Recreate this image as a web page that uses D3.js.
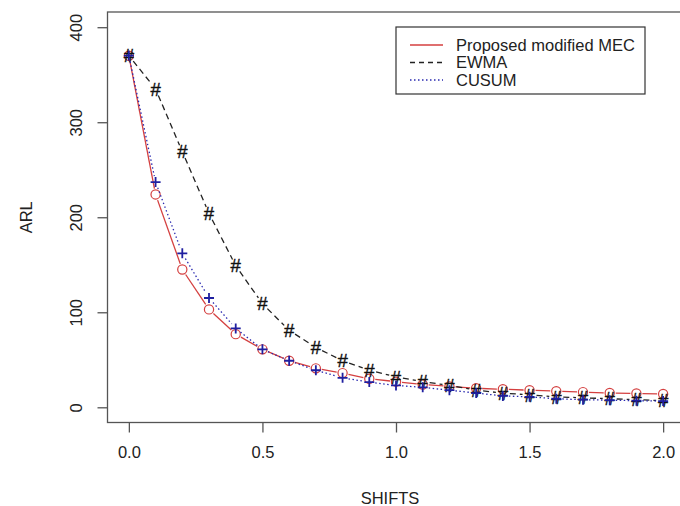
<!DOCTYPE html>
<html>
<head>
<meta charset="utf-8">
<script src="https://cdn.jsdelivr.net/npm/d3@7"></script>
<style>
  html, body { margin: 0; padding: 0; background: #fff; }
  svg { display: block; }
  text { font-family: "Liberation Sans", Arial, sans-serif; fill: #222; }
</style>
</head>
<body>
<svg id="chart" width="680" height="506"></svg>
<script>
// ---- data ----
const shifts = [0.0, 0.1, 0.2, 0.3, 0.4, 0.5, 0.6, 0.7, 0.8, 0.9, 1.0, 1.1, 1.2, 1.3, 1.4, 1.5, 1.6, 1.7, 1.8, 1.9, 2.0];
const mecValues   = [370, 224, 145, 103, 77, 61, 49, 41, 36, 30, 27, 24, 22, 20, 19, 18, 17, 16, 15, 14.5, 14];
const ewmaValues  = [370, 335, 269, 204, 149, 109, 81, 63, 49, 39, 32, 27, 23, 18, 15, 13, 11, 10, 9, 8, 7];
const cusumValues = [370, 237, 162, 115, 83, 61, 49, 39, 31, 26.5, 23, 21, 18, 15, 12, 11, 9, 8, 7.5, 7, 6.5];
const xTicks = [0.0, 0.5, 1.0, 1.5, 2.0];
const yTicks = [0, 100, 200, 300, 400];
const seriesNames = ["Proposed modified MEC", "EWMA", "CUSUM"];

const svg = d3.select("#chart");
const x = d3.scaleLinear().domain([-0.08, 2.08]).range([107.5, 684.5]);
const y = d3.scaleLinear().domain([-16, 416]).range([422.5, 12]);

// frame
svg.append("rect")
  .attr("x", x(-0.08)).attr("y", y(416))
  .attr("width", x(2.08) - x(-0.08)).attr("height", y(-16) - y(416))
  .attr("fill", "none").attr("stroke", "#555").attr("stroke-width", 1.3);

// axes
const xAxis = d3.axisBottom(x).tickValues(xTicks).tickFormat(d3.format(".1f")).tickSize(10).tickPadding(14);
const gx = svg.append("g").attr("transform", `translate(0,${y(-16)})`).call(xAxis);
gx.select(".domain").remove();
gx.selectAll("line").attr("stroke", "#555").attr("stroke-width", 1.3);
gx.selectAll("text").attr("font-size", 16.5).attr("fill", "#222")
  .style("font-family", '"Liberation Sans", Arial, sans-serif');

const yAxis = d3.axisLeft(y).tickValues(yTicks).tickFormat(d3.format("d")).tickSize(10);
const gy = svg.append("g").attr("transform", `translate(${x(-0.08)},0)`).call(yAxis);
gy.select(".domain").remove();
gy.selectAll("line").attr("stroke", "#555").attr("stroke-width", 1.3);
gy.selectAll("text")
  .attr("font-size", 16.5).attr("fill", "#222")
  .style("font-family", '"Liberation Sans", Arial, sans-serif')
  .attr("x", null).attr("dy", null)
  .attr("text-anchor", "middle")
  .attr("transform", d => `translate(-26,${0}) rotate(-90)`);

// axis titles
svg.append("text").attr("x", (x(-0.08) + x(2.08)) / 2 - 6).attr("y", 504)
  .attr("text-anchor", "middle").attr("font-size", 16.5).text("SHIFTS");
svg.append("text")
  .attr("transform", `translate(32,${(y(-16) + y(416)) / 2}) rotate(-90)`)
  .attr("text-anchor", "middle").attr("font-size", 16.5).text("ARL");

// type="b" style segments with gaps around points
function gappedSegments(vals, gap) {
  const pts = shifts.map((s, i) => [x(s), y(vals[i])]);
  const segs = [];
  for (let i = 0; i < pts.length - 1; i++) {
    const [x0, y0] = pts[i], [x1, y1] = pts[i + 1];
    const dx = x1 - x0, dy = y1 - y0, len = Math.hypot(dx, dy);
    if (len > 2 * gap) {
      const ux = dx / len, uy = dy / len;
      segs.push([[x0 + ux * gap, y0 + uy * gap], [x1 - ux * gap, y1 - uy * gap]]);
    }
  }
  return segs;
}
const line = d3.line();

function drawSeries(vals, color, dash, gap) {
  const g = svg.append("g");
  gappedSegments(vals, gap).forEach(seg => {
    g.append("path").attr("d", line(seg)).attr("fill", "none")
      .attr("stroke", color).attr("stroke-width", 1.3)
      .attr("stroke-dasharray", dash);
  });
  return g;
}

// MEC
drawSeries(mecValues, "#d43f3f", null, 6);
svg.append("g").selectAll("circle").data(mecValues).join("circle")
  .attr("cx", (d, i) => x(shifts[i])).attr("cy", d => y(d)).attr("r", 4.6)
  .attr("fill", "none").attr("stroke", "#d43f3f").attr("stroke-width", 1.2);

// EWMA
drawSeries(ewmaValues, "#222", "6,4", 7);
svg.append("g").selectAll("text").data(ewmaValues).join("text")
  .attr("x", (d, i) => x(shifts[i])).attr("y", d => y(d))
  .attr("dy", "0.36em").attr("text-anchor", "middle")
  .attr("font-size", 18.5).style("fill", "#111")
  .attr("stroke", "#111").attr("stroke-width", 0.4).text("#");

// CUSUM
drawSeries(cusumValues, "#2a2ab0", "1.5,2.5", 6);
svg.append("g").selectAll("path").data(cusumValues).join("path")
  .attr("d", (d, i) => {
    const cx = x(shifts[i]), cy = y(d), h = 5;
    return `M${cx - h},${cy}L${cx + h},${cy}M${cx},${cy - h}L${cx},${cy + h}`;
  })
  .attr("stroke", "#1f1fa0").attr("stroke-width", 1.8).attr("fill", "none");

// legend
const lg = svg.append("g");
lg.append("rect").attr("x", 396).attr("y", 27).attr("width", 249).attr("height", 67)
  .attr("fill", "#fff").attr("stroke", "#333").attr("stroke-width", 1.2);
const legendStyles = [
  { color: "#d43f3f", dash: null },
  { color: "#222", dash: "5,4" },
  { color: "#2a2ab0", dash: "1.5,2.5" }
];
seriesNames.forEach((name, i) => {
  const cy = 45 + i * 17.5;
  lg.append("line").attr("x1", 410).attr("x2", 443).attr("y1", cy).attr("y2", cy)
    .attr("stroke", legendStyles[i].color).attr("stroke-width", 1.3)
    .attr("stroke-dasharray", legendStyles[i].dash);
  lg.append("text").attr("x", 456).attr("y", cy).attr("dy", "0.36em")
    .attr("font-size", 16.5).text(name);
});
</script>
</body>
</html>
